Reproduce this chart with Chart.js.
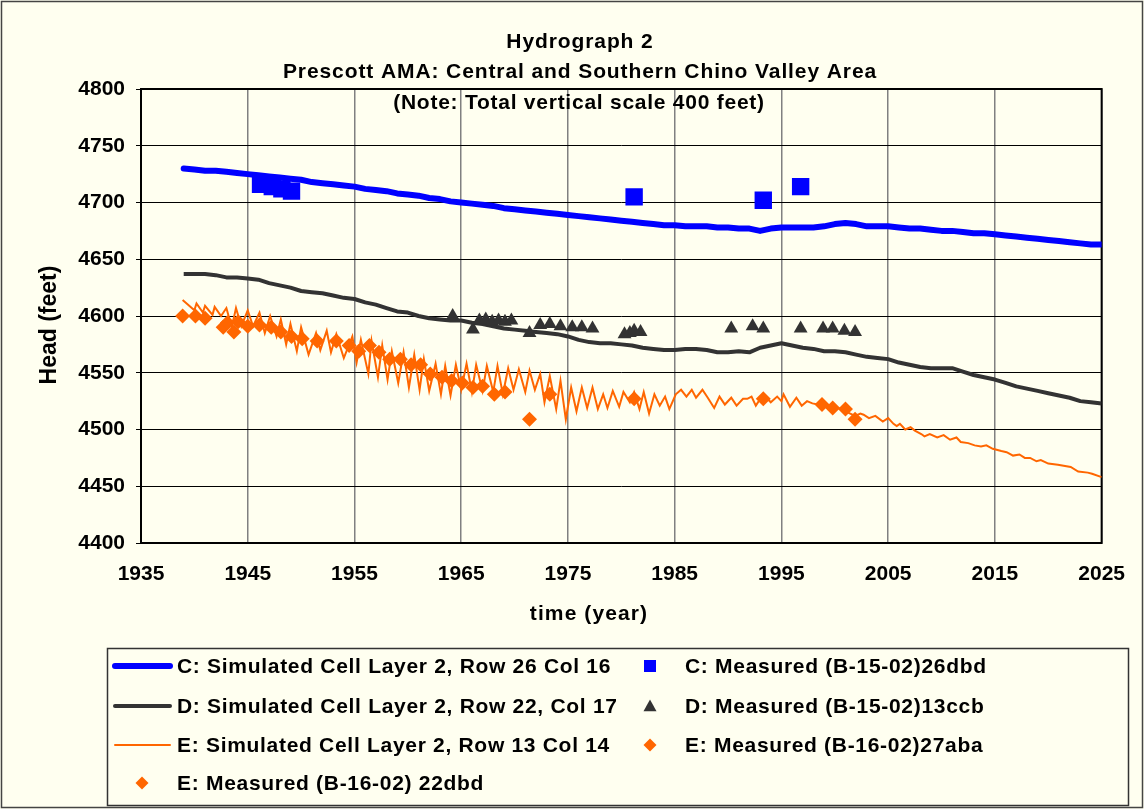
<!DOCTYPE html>
<html>
<head>
<meta charset="utf-8">
<title>Hydrograph 2</title>
<script src="https://cdn.jsdelivr.net/npm/chart.js@4.4.1/dist/chart.umd.min.js"></script>
<style>
  html, body { margin: 0; padding: 0; background: #fffff0; }
</style>
</head>
<body>
<canvas id="hydro" width="1144" height="809"></canvas>
<script>
// simulated heads, one value per year
var simYears = [1939, 1940, 1941, 1942, 1943, 1944, 1945, 1946, 1947, 1948,
    1949, 1950, 1951, 1952, 1953, 1954, 1955, 1956, 1957, 1958,
    1959, 1960, 1961, 1962, 1963, 1964, 1965, 1966, 1967, 1968,
    1969, 1970, 1971, 1972, 1973, 1974, 1975, 1976, 1977, 1978,
    1979, 1980, 1981, 1982, 1983, 1984, 1985, 1986, 1987, 1988,
    1989, 1990, 1991, 1992, 1993, 1994, 1995, 1996, 1997, 1998,
    1999, 2000, 2001, 2002, 2003, 2004, 2005, 2006, 2007, 2008,
    2009, 2010, 2011, 2012, 2013, 2014, 2015, 2016, 2017, 2018,
    2019, 2020, 2021, 2022, 2023, 2024, 2025];
var cSim = [4730, 4729, 4728, 4728, 4727, 4726, 4725, 4724, 4723, 4722,
    4721, 4720, 4718, 4717, 4716, 4715, 4714, 4712, 4711, 4710,
    4708, 4707, 4706, 4704, 4703, 4701, 4700, 4699, 4698, 4697,
    4695, 4694, 4693, 4692, 4691, 4690, 4689, 4688, 4687, 4686,
    4685, 4684, 4683, 4682, 4681, 4680, 4680, 4679, 4679, 4679,
    4678, 4678, 4677, 4677, 4675, 4677, 4678, 4678, 4678, 4678,
    4679, 4681, 4682, 4681, 4679, 4679, 4679, 4678, 4677, 4677,
    4676, 4675, 4675, 4674, 4673, 4673, 4672, 4671, 4670, 4669,
    4668, 4667, 4666, 4665, 4664, 4663, 4663];
var dSim = [4637, 4637, 4637, 4636, 4634, 4634, 4633, 4632, 4629, 4627,
    4625, 4622, 4621, 4620, 4618, 4616, 4615, 4612, 4610, 4607,
    4604, 4603, 4600, 4598, 4597, 4596, 4596, 4594, 4593, 4591,
    4589, 4588, 4587, 4586, 4585, 4584, 4582, 4579, 4577, 4576,
    4576, 4575, 4574, 4572, 4571, 4570, 4570, 4571, 4571, 4570,
    4568, 4568, 4569, 4568, 4572, 4574, 4576, 4574, 4572, 4571,
    4569, 4569, 4568, 4566, 4564, 4563, 4562, 4559, 4557, 4555,
    4554, 4554, 4554, 4551, 4548, 4546, 4544, 4541, 4538, 4536,
    4534, 4532, 4530, 4528, 4525, 4524, 4523];

// E simulated swings with the pumping season, so it has its own time list
var eSimYears = [1938.9, 1940.0, 1940.2, 1940.8, 1941.0, 1941.7, 1941.9, 1942.5, 1943.0, 1943.5,
    1943.9, 1944.4, 1945.0, 1945.5, 1946.1, 1946.6, 1947.1, 1947.7, 1948.1, 1948.6,
    1949.0, 1949.6, 1950.0, 1950.7, 1951.4, 1951.8, 1952.4, 1952.8, 1953.3, 1954.0,
    1954.8, 1955.2, 1955.6, 1956.3, 1956.6, 1957.2, 1957.6, 1958.1, 1958.5, 1959.1,
    1959.6, 1960.1, 1960.6, 1961.1, 1961.5, 1962.0, 1962.6, 1963.1, 1963.5, 1964.0,
    1964.5, 1965.0, 1965.5, 1966.0, 1966.4, 1967.0, 1967.4, 1968.0, 1968.4, 1968.9,
    1969.4, 1969.9, 1970.4, 1971.0, 1971.4, 1971.9, 1972.4, 1972.8, 1973.3, 1973.9,
    1974.3, 1974.8, 1975.3, 1975.8, 1976.3, 1976.8, 1977.3, 1977.8, 1978.3, 1978.7,
    1979.2, 1979.8, 1980.2, 1980.8, 1981.2, 1981.7, 1982.1, 1982.6, 1983.1, 1983.6,
    1984.1, 1984.5, 1985.1, 1985.6, 1986.1, 1986.6, 1987.0, 1987.6, 1988.1, 1988.7,
    1989.2, 1989.7, 1990.3, 1990.8, 1991.4, 1991.8, 1992.2, 1992.6, 1993.3, 1994.0,
    1994.6, 1995.0, 1995.2, 1995.8, 1996.4, 1996.9, 1997.4, 1997.9, 1998.4, 1998.8,
    1999.4, 2000.3, 2001.0, 2001.9, 2002.4, 2002.7, 2003.2, 2003.8, 2004.5, 2005.0,
    2005.5, 2005.8, 2006.1, 2006.6, 2007.1, 2007.5, 2008.1, 2008.4, 2008.9, 2009.6,
    2010.2, 2010.8, 2011.4, 2011.8, 2012.5, 2013.1, 2013.7, 2014.2, 2014.8, 2015.6,
    2016.1, 2016.7, 2017.3, 2017.8, 2018.3, 2018.9, 2019.3, 2020.0, 2020.9, 2022.1,
    2022.8, 2023.7, 2024.1, 2025.0];
var eSim = [4614, 4605, 4611, 4603, 4609, 4601, 4608, 4600, 4607, 4590,
    4607, 4591, 4605, 4591, 4603, 4585, 4600, 4582, 4597, 4575,
    4593, 4569, 4590, 4566, 4585, 4570, 4587, 4568, 4584, 4563,
    4582, 4559, 4579, 4549, 4578, 4546, 4574, 4544, 4569, 4541,
    4568, 4537, 4566, 4535, 4562, 4534, 4558, 4531, 4556, 4530,
    4557, 4535, 4558, 4533, 4557, 4534, 4556, 4533, 4556, 4531,
    4554, 4535, 4553, 4533, 4552, 4535, 4549, 4524, 4547, 4518,
    4543, 4509, 4537, 4516, 4537, 4519, 4537, 4518, 4531, 4519,
    4534, 4520, 4533, 4524, 4533, 4518, 4533, 4514, 4531, 4521,
    4529, 4518, 4531, 4535, 4529, 4535, 4528, 4535, 4528, 4519,
    4529, 4522, 4528, 4521, 4527, 4527, 4529, 4521, 4531, 4524,
    4529, 4525, 4531, 4520, 4528, 4521, 4525, 4523, 4522, 4525,
    4518, 4519, 4516, 4512, 4514, 4513, 4510, 4512, 4507, 4510,
    4505, 4503, 4505, 4500, 4502, 4499, 4496, 4494, 4496, 4493,
    4495, 4491, 4493, 4489, 4488, 4486, 4485, 4486, 4483, 4481,
    4480, 4477, 4478, 4475, 4475, 4472, 4473, 4470, 4469, 4467,
    4463, 4462, 4461, 4458];

// measured heads
var cMeasYears = [1946.2, 1947.3, 1948.2, 1949.1, 1981.2, 1993.3, 1996.8];
var cMeas = [4716, 4714, 4712, 4710, 4705, 4702, 4714];
var dMeasYears = [1964.2, 1966.1, 1966.7, 1967.3, 1967.9, 1968.5, 1969.1, 1969.7,
    1971.4, 1972.4, 1973.3, 1974.3, 1975.4, 1976.3, 1977.3,
    1980.3, 1980.8, 1981.2, 1981.8, 1990.3, 1992.3, 1993.3, 1996.8,
    1998.9, 1999.8, 2000.9, 2001.9];
var dMeas = [4600, 4588, 4596, 4597, 4595, 4596, 4595, 4596,
    4585, 4592, 4593, 4591, 4590, 4590, 4589,
    4584, 4585, 4587, 4586, 4589, 4591, 4589, 4589,
    4589, 4589, 4587, 4586];
var eMeasAYears = [1938.9, 1940.1, 1941.0, 1942.7, 1943.1, 1943.7, 1944.1, 1945.0, 1946.1, 1947.2,
    1948.1, 1949.1, 1950.1, 1951.5, 1953.3, 1954.5, 1955.4, 1956.4, 1957.3, 1958.3,
    1959.3, 1960.3, 1961.2, 1962.1, 1963.2, 1964.1, 1965.1, 1966.1, 1967.0, 1968.1, 1969.1];
var eMeasA = [4600, 4600, 4598, 4590, 4594, 4586, 4595, 4591, 4592, 4590,
    4586, 4582, 4580, 4578, 4578, 4574, 4569, 4574, 4568, 4562,
    4562, 4557, 4557, 4549, 4546, 4543, 4541, 4537, 4538, 4531, 4533];
var eMeasBYears = [1971.4, 1973.3, 1981.2, 1993.3, 1998.8, 1999.8, 2001.0, 2001.9];
var eMeasB = [4509, 4531, 4527, 4527, 4522, 4519, 4518, 4509];

var yearTicks = [1935, 1945, 1955, 1965, 1975, 1985, 1995, 2005, 2015, 2025];
var headTicks = [4400, 4450, 4500, 4550, 4600, 4650, 4700, 4750, 4800];

function pts(xs, ys) {
    return xs.map(function (x, i) { return {x: x, y: ys[i]}; });
}

var FONT = '"Liberation Sans", Arial, sans-serif';

function drawMarker(ctx, style, x, y, r, color) {
    ctx.fillStyle = color;
    ctx.beginPath();
    if (style === 'rect') {
        ctx.rect(x - r, y - r, 2 * r, 2 * r);
    } else if (style === 'triangle') {
        ctx.moveTo(x, y - r);
        ctx.lineTo(x + r, y + r * 0.8);
        ctx.lineTo(x - r, y + r * 0.8);
        ctx.closePath();
    } else {
        ctx.moveTo(x, y - r);
        ctx.lineTo(x + r, y);
        ctx.lineTo(x, y + r);
        ctx.lineTo(x - r, y);
        ctx.closePath();
    }
    ctx.fill();
}

// Excel-ish text: bold and a bit spread out
function label(ctx, text, x, y, size, spacing) {
    ctx.font = 'bold ' + size + 'px ' + FONT;
    ctx.letterSpacing = spacing + 'px';
    ctx.fillText(text, x, y);
    ctx.letterSpacing = '0px';
}

var backdrop = {
    id: 'backdrop',
    beforeDraw: function (chart) {
        var ctx = chart.ctx;
        ctx.save();
        ctx.fillStyle = '#fffff0';
        ctx.fillRect(0, 0, chart.width, chart.height);
        ctx.strokeStyle = '#444';
        ctx.lineWidth = 1.5;
        ctx.strokeRect(1.5, 1.5, chart.width - 3, chart.height - 3);
        ctx.restore();
    },
    beforeDatasetsDraw: function (chart) {
        var a = chart.chartArea, ctx = chart.ctx;
        ctx.save();
        ctx.strokeStyle = '#000';
        ctx.lineWidth = 2;
        ctx.strokeRect(a.left, a.top, a.right - a.left, a.bottom - a.top);
        ctx.fillStyle = '#000';
        ctx.textAlign = 'center';
        ctx.textBaseline = 'middle';
        label(ctx, '(Note: Total vertical scale 400 feet)', 579, 103, 21, 0.75);
        ctx.restore();
    },
    afterDraw: function (chart) {
        var ctx = chart.ctx;
        ctx.save();
        ctx.fillStyle = '#000';
        ctx.textAlign = 'center';
        ctx.textBaseline = 'middle';
        label(ctx, 'Hydrograph 2', 580, 42, 21, 0.9);
        label(ctx, 'Prescott AMA: Central and Southern Chino Valley Area', 580, 72, 21, 0.9);
        label(ctx, 'time (year)', 589, 614, 21, 1.1);
        ctx.save();
        ctx.translate(50, 325);
        ctx.rotate(-Math.PI / 2);
        label(ctx, 'Head (feet)', 0, 0, 23, 0);
        ctx.restore();

        // legend box
        ctx.strokeStyle = '#333';
        ctx.lineWidth = 1.5;
        ctx.strokeRect(107.5, 648.5, 1021, 157);
        var rows = [666, 706, 745, 783];
        var slots = [[0, 0], [1, 0], [0, 1], [1, 1], [0, 2], [1, 2], [0, 3]];
        ctx.textAlign = 'left';
        chart.data.datasets.forEach(function (ds, i) {
            var col = slots[i][0], y = rows[slots[i][1]];
            if (ds.showLine) {
                ctx.strokeStyle = ds.borderColor;
                ctx.lineWidth = ds.borderWidth;
                ctx.lineCap = 'round';
                ctx.beginPath();
                ctx.moveTo(115, y);
                ctx.lineTo(170, y);
                ctx.stroke();
            } else {
                var mx = (col === 0) ? 142 : 650;
                drawMarker(ctx, ds.pointStyle, mx, y, ds.pointStyle === 'rect' ? 6 : 6.5, ds.backgroundColor);
            }
            ctx.fillStyle = '#000';
            label(ctx, ds.label, col === 0 ? 177 : 685, y + 1, 21, 0.7);
        });
        ctx.restore();
    }
};

var ctx = document.getElementById('hydro').getContext('2d');
var hydro = new Chart(ctx, {
    type: 'scatter',
    data: {
        datasets: [{
            label: 'C: Simulated Cell Layer 2, Row 26 Col 16',
            data: pts(simYears, cSim),
            showLine: true,
            borderColor: '#0000ff',
            backgroundColor: '#0000ff',
            borderWidth: 6,
            borderCapStyle: 'round',
            borderJoinStyle: 'round',
            pointRadius: 0,
            order: 2
        }, {
            label: 'C: Measured (B-15-02)26dbd',
            data: pts(cMeasYears, cMeas),
            showLine: false,
            pointStyle: 'rect',
            pointRadius: 12.3,
            borderWidth: 0,
            backgroundColor: '#0000ff',
            borderColor: '#0000ff',
            order: 0
        }, {
            label: 'D: Simulated Cell Layer 2, Row 22, Col 17',
            data: pts(simYears, dSim),
            showLine: true,
            borderColor: '#333333',
            backgroundColor: '#333333',
            borderWidth: 4,
            borderJoinStyle: 'round',
            pointRadius: 0,
            order: 2
        }, {
            label: 'D: Measured (B-15-02)13ccb',
            data: pts(dMeasYears, dMeas),
            showLine: false,
            pointStyle: 'triangle',
            pointRadius: 8,
            borderWidth: 0,
            backgroundColor: '#333333',
            borderColor: '#333333',
            order: 0
        }, {
            label: 'E: Simulated Cell Layer 2, Row 13 Col 14',
            data: pts(eSimYears, eSim),
            showLine: true,
            borderColor: '#ff6600',
            backgroundColor: '#ff6600',
            borderWidth: 2,
            pointRadius: 0,
            order: 2
        }, {
            label: 'E: Measured (B-16-02)27aba',
            data: pts(eMeasAYears, eMeasA),
            showLine: false,
            pointStyle: 'rectRot',
            pointRadius: 7.5,
            borderWidth: 0,
            backgroundColor: '#ff6600',
            borderColor: '#ff6600',
            order: 0
        }, {
            label: 'E: Measured (B-16-02) 22dbd',
            data: pts(eMeasBYears, eMeasB),
            showLine: false,
            pointStyle: 'rectRot',
            pointRadius: 7.5,
            borderWidth: 0,
            backgroundColor: '#ff6600',
            borderColor: '#ff6600',
            order: 0
        }]
    },
    options: {
        responsive: false,
        animation: false,
        layout: { padding: { top: 89, left: 0, right: 40, bottom: 216 } },
        plugins: {
            legend: { display: false },
            title: { display: false },
            tooltip: { enabled: false }
        },
        scales: {
            x: {
                type: 'linear',
                min: 1935,
                max: 2025,
                afterBuildTicks: function (axis) {
                    axis.ticks = yearTicks.map(function (v) { return {value: v}; });
                },
                afterFit: function (axis) { axis.height = 50; },
                grid: { color: '#808080', lineWidth: 1.5, drawTicks: false },
                border: { display: false },
                ticks: {
                    padding: 19,
                    color: '#000',
                    maxRotation: 0,
                    font: { family: FONT, size: 21, weight: 'bold' },
                    callback: function (v) { return String(v); }
                }
            },
            y: {
                min: 4400,
                max: 4800,
                afterBuildTicks: function (axis) {
                    axis.ticks = headTicks.map(function (v) { return {value: v}; });
                },
                afterFit: function (axis) { axis.width = 141; },
                grid: { color: '#000', lineWidth: 1, tickLength: 5, tickColor: '#000' },
                border: { display: false },
                ticks: {
                    padding: 11,
                    color: '#000',
                    font: { family: FONT, size: 21, weight: 'bold' },
                    callback: function (v) { return String(v); }
                }
            }
        }
    },
    plugins: [backdrop]
});
</script>
</body>
</html>
